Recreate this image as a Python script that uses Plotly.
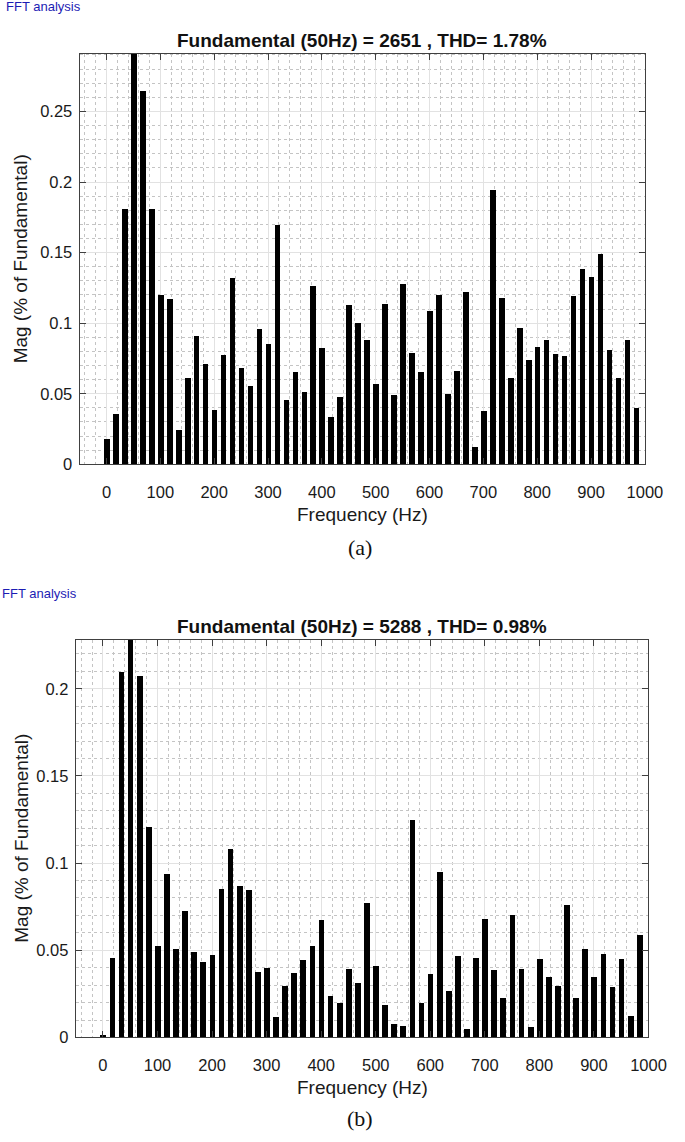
import plotly.graph_objects as go

# Frequency bins (Hz)
freq = [0, 16.67, 33.33, 50, 66.67, 83.33, 100, 116.67, 133.33, 150,
        166.67, 183.33, 200, 216.67, 233.33, 250, 266.67, 283.33, 300, 316.67,
        333.33, 350, 366.67, 383.33, 400, 416.67, 433.33, 450, 466.67, 483.33,
        500, 516.67, 533.33, 550, 566.67, 583.33, 600, 616.67, 633.33, 650,
        666.67, 683.33, 700, 716.67, 733.33, 750, 766.67, 783.33, 800, 816.67,
        833.33, 850, 866.67, 883.33, 900, 916.67, 933.33, 950, 966.67, 983.33]

# (a) magnitudes, % of fundamental (fundamental bar = 100, clipped by axis)
mag_a = [0.018, 0.036, 0.181, 100, 0.265, 0.181, 0.1206, 0.1175, 0.0246, 0.0613,
         0.0915, 0.0714, 0.0386, 0.078, 0.132, 0.0686, 0.0557, 0.0962, 0.0857, 0.1697,
         0.0459, 0.0655, 0.0515, 0.1269, 0.0824, 0.034, 0.048, 0.1135, 0.1004, 0.0887,
         0.0574, 0.1142, 0.0496, 0.128, 0.0791, 0.066, 0.1086, 0.1206, 0.050, 0.0665,
         0.1222, 0.0124, 0.0379, 0.1943, 0.118, 0.0613, 0.0971, 0.0742, 0.0836, 0.0885,
         0.0784, 0.0772, 0.1199, 0.1386, 0.1332, 0.1496, 0.081, 0.0613, 0.0883, 0.040]

# (b) magnitudes
mag_b = [0.0017, 0.0459, 0.2097, 100, 0.2076, 0.1209, 0.0526, 0.0937, 0.051, 0.0725,
         0.0491, 0.0435, 0.0476, 0.0854, 0.108, 0.0869, 0.0846, 0.0374, 0.0398, 0.012,
         0.0296, 0.0372, 0.0442, 0.0526, 0.0677, 0.0241, 0.0197, 0.0395, 0.0313, 0.0772,
         0.0412, 0.0188, 0.008, 0.0066, 0.1247, 0.0201, 0.0362, 0.0949, 0.0266, 0.0465,
         0.0051, 0.0457, 0.0679, 0.0387, 0.0226, 0.0704, 0.0395, 0.0059, 0.0448, 0.0349,
         0.0294, 0.0763, 0.0228, 0.051, 0.0349, 0.0482, 0.029, 0.0448, 0.0125, 0.059]

xticks = [0, 100, 200, 300, 400, 500, 600, 700, 800, 900, 1000]
yticks_a = [0, 0.05, 0.1, 0.15, 0.2, 0.25]
yticks_b = [0, 0.05, 0.1, 0.15, 0.2]

title_a = "Fundamental (50Hz) = 2651 , THD= 1.78%"
title_b = "Fundamental (50Hz) = 5288 , THD= 0.98%"

W, H = 685, 1142
FONT = "Liberation Sans, Arial, sans-serif"

fig = go.Figure()
fig.add_trace(go.Bar(x=freq, y=mag_a, width=10.5, marker=dict(color="black", line=dict(width=0)),
                     xaxis="x", yaxis="y", showlegend=False))
fig.add_trace(go.Bar(x=freq, y=mag_b, width=10.5, marker=dict(color="black", line=dict(width=0)),
                     xaxis="x2", yaxis="y2", showlegend=False))


def px_x(v):
    return v / W


def px_y(v):
    return 1 - v / H


def xax(domain, anchor):
    return dict(domain=domain, anchor=anchor, range=[-50, 1000], tickmode="array",
                tickvals=xticks, ticktext=[str(t) for t in xticks],
                ticks="inside", ticklen=6, tickcolor="#404040", showline=True, linecolor="#404040",
                linewidth=1, mirror="ticks", showgrid=True, gridcolor="#e2e2e2", gridwidth=1,
                zeroline=False, tickfont=dict(family=FONT, size=16.5, color="#1a1a1a"),
                ticklabelstandoff=13,
                minor=dict(dtick=20, tick0=0, showgrid=True, gridcolor="#c4c4c4", griddash="dot",
                           gridwidth=1, ticks=""))


def yax(domain, anchor, top, ticks):
    return dict(domain=domain, anchor=anchor, range=[0, top], tickmode="array",
                tickvals=ticks, ticktext=[("%g" % t) for t in ticks],
                ticks="inside", ticklen=6, tickcolor="#404040", showline=True, linecolor="#404040",
                linewidth=1, mirror="ticks", showgrid=True, gridcolor="#e2e2e2", gridwidth=1,
                zeroline=False, tickfont=dict(family=FONT, size=16.5, color="#1a1a1a"),
                ticklabelstandoff=3,
                minor=dict(dtick=0.01, tick0=0, showgrid=True, gridcolor="#c4c4c4", griddash="dot",
                           gridwidth=1, ticks=""))


fig.update_layout(
    width=W, height=H, margin=dict(l=0, r=0, t=0, b=0),
    paper_bgcolor="white", plot_bgcolor="white", bargap=0,
    xaxis=xax([px_x(81.7), px_x(662.3)], "y"),
    yaxis=yax([px_y(468), px_y(54)], "x", 0.291, yticks_a),
    xaxis2=xax([px_x(77.7), px_x(666)], "y2"),
    yaxis2=yax([px_y(1045.7), px_y(645)], "x2", 0.228, yticks_b),
)

ann = []


def text(x, y, s, size, color="#1a1a1a", bold=False, family=FONT, angle=0, xanchor="center"):
    ann.append(dict(x=px_x(x), y=px_y(y), xref="paper", yref="paper", text=("<b>%s</b>" % s) if bold else s,
                    showarrow=False, xanchor=xanchor, yanchor="middle", textangle=angle,
                    font=dict(family=family, size=size, color=color)))


# panel (a)
text(4, 7, "FFT analysis", 13, color="#1c1cb4", xanchor="left")
text(372, 41, title_a, 19, bold=True, color="#111111")
text(372, 519, "Frequency (Hz)", 19)
text(22, 261, "Mag (% of Fundamental)", 19, angle=-90)
text(370, 552, "(a)", 22, family="Liberation Serif, Times New Roman, serif", color="#111111")

# panel (b)
text(0, 598, "FFT analysis", 13, color="#1c1cb4", xanchor="left")
text(372, 631, title_b, 19, bold=True, color="#111111")
text(372, 1096, "Frequency (Hz)", 19)
text(22, 845, "Mag (% of Fundamental)", 19, angle=-90)
text(370, 1127, "(b)", 22, family="Liberation Serif, Times New Roman, serif", color="#111111")

fig.update_layout(annotations=ann)

fig.write_html("out.html", config={"displayModeBar": False},
               post_script="document.body.style.margin='0';document.body.style.overflow='hidden';")
